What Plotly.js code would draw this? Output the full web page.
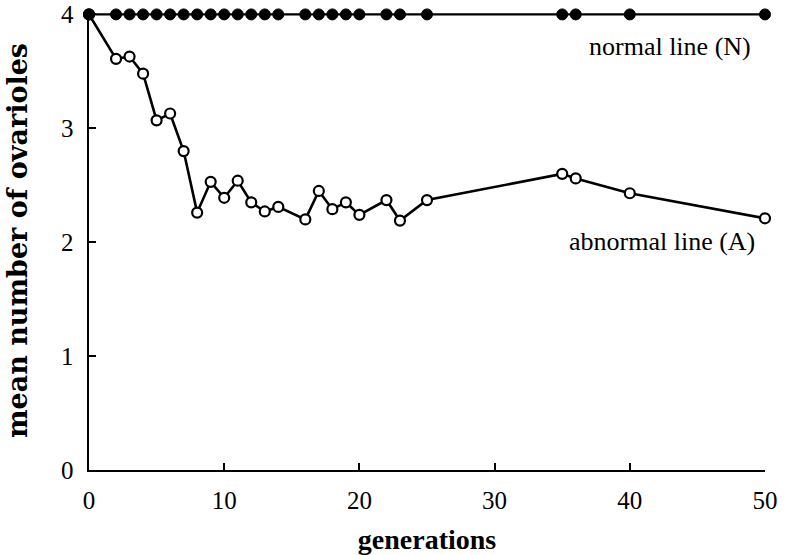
<!DOCTYPE html>
<html>
<head>
<meta charset="utf-8">
<script src="https://cdn.plot.ly/plotly-3.0.1.min.js"></script>
<style>html,body{margin:0;padding:0;background:#fff;}#chart{width:789px;height:555px;}</style>
</head>
<body>
<div id="chart"></div>
<script>
// generations sampled
var generations = [0,2,3,4,5,6,7,8,9,10,11,12,13,14,16,17,18,19,20,22,23,25,35,36,40,50];
// normal line (N)
var normalLine = [4,4,4,4,4,4,4,4,4,4,4,4,4,4,4,4,4,4,4,4,4,4,4,4,4,4];
// abnormal line (A)
var abnormalLine = [4,3.61,3.63,3.48,3.07,3.13,2.80,2.26,2.53,2.39,2.54,2.35,2.27,2.31,2.20,2.45,2.29,2.35,2.24,2.37,2.19,2.37,2.60,2.56,2.43,2.21];
var xTicks = [0,10,20,30,40,50];
var yTicks = [0,1,2,3,4];
var labelN = 'normal line (N)';
var labelA = 'abnormal line (A)';

var traces = [
  {x: generations, y: abnormalLine, mode: 'lines+markers', cliponaxis: false,
   line: {color: '#000', width: 2.6},
   marker: {symbol: 'circle', size: 10, color: '#fff', line: {color: '#000', width: 2.2}}},
  {x: generations, y: normalLine, mode: 'lines+markers', cliponaxis: false,
   line: {color: '#000', width: 2.4},
   marker: {symbol: 'circle', size: 11, color: '#000', line: {color: '#000', width: 1}}}
];

var serif = 'Liberation Serif, Times New Roman, serif';
var layout = {
  width: 789, height: 555,
  margin: {l: 89, r: 24, t: 11, b: 85},
  paper_bgcolor: '#fff', plot_bgcolor: '#fff',
  showlegend: false,
  xaxis: {
    range: [0, 50], tickvals: xTicks, ticktext: xTicks.map(String),
    ticks: 'inside', ticklen: 7, tickwidth: 2, tickcolor: '#000',
    showline: true, linewidth: 2.4, linecolor: '#000', mirror: false,
    showgrid: false, zeroline: false,
    tickfont: {family: serif, size: 25, color: '#000'},
    ticklabelstandoff: 7,
    title: {text: 'generations', font: {family: serif, size: 28, color: '#000', weight: 'bold'}, standoff: 16}
  },
  yaxis: {
    range: [0, 4.03], tickvals: yTicks, ticktext: yTicks.map(String),
    ticks: 'inside', ticklen: 7, tickwidth: 2, tickcolor: '#000',
    showline: true, linewidth: 2.4, linecolor: '#000', mirror: false,
    showgrid: false, zeroline: false,
    tickfont: {family: serif, size: 25, color: '#000'},
    ticklabelstandoff: 8,
    title: {text: 'mean number of ovarioles', font: {family: '"DejaVu Serif", serif', size: 27, color: '#000', weight: 'bold'}, standoff: 26}
  },
  annotations: [
    {xref: 'paper', yref: 'paper', x: 0.982, y: 0.922, xanchor: 'right', yanchor: 'middle',
     text: labelN, showarrow: false, font: {family: serif, size: 26, color: '#000'}},
    {xref: 'paper', yref: 'paper', x: 0.988, y: 0.497, xanchor: 'right', yanchor: 'middle',
     text: labelA, showarrow: false, font: {family: serif, size: 26, color: '#000'}}
  ]
};

Plotly.newPlot('chart', traces, layout, {displayModeBar: false, staticPlot: true});
</script>
</body>
</html>
